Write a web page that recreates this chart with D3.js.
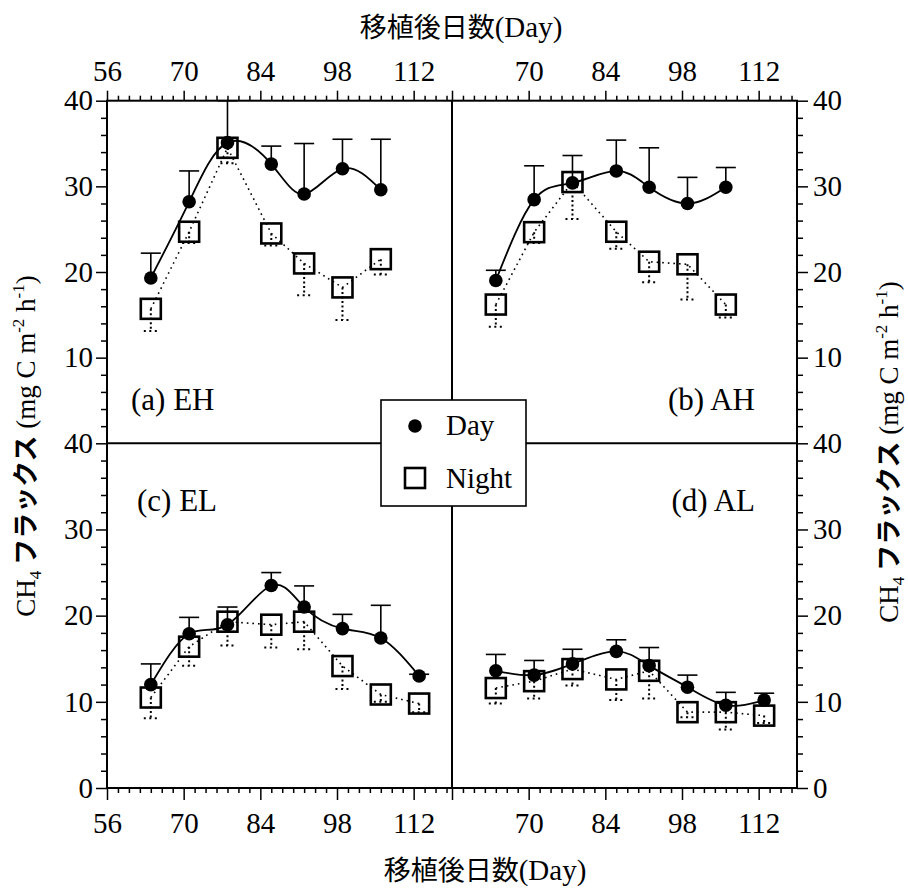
<!DOCTYPE html>
<html><head><meta charset="utf-8">
<script src="https://cdn.jsdelivr.net/npm/d3@7"></script>
<style>
body{margin:0;background:#fff}
svg text{font-family:"Liberation Serif","DejaVu Serif",serif}
svg text .cjk, svg text.cjk{font-family:"Noto Sans CJK JP","Noto Sans CJK SC",sans-serif}
</style>
</head><body><svg id="c" width="908" height="888"></svg>
<script>
// ---------- data ----------
const days7 = [64, 71, 78, 86, 92, 99, 106];
const days8 = [64, 71, 78, 86, 92, 99, 106, 113];
const xTickLabels = [56, 70, 84, 98, 112];
const yTickLabels = [0, 10, 20, 30, 40];

const EH_day = [19.3, 28.2, 35.1, 32.6, 29.1, 32.05, 29.6];
const EH_dayErr = [2.9, 3.6, 4.9, 2.1, 5.9, 3.45, 5.9];
const EH_night = [15.7, 24.7, 34.5, 24.5, 21.0, 18.2, 21.5];
const EH_nightErr = [2.6, 1.3, 1.8, 1.4, 3.7, 3.8, 1.8];

const AH_day = [19.0, 28.45, 30.4, 31.8, 29.9, 28.0, 29.9];
const AH_dayErr = [1.2, 3.95, 3.2, 3.6, 4.6, 3.05, 2.3];
const AH_night = [16.2, 24.65, 30.5, 24.7, 21.2, 20.9, 16.2];
const AH_nightErr = [2.6, 1.25, 4.3, 2.0, 2.4, 4.1, 1.5];

const EL_day = [12.0, 17.9, 18.95, 23.5, 21.0, 18.5, 17.4, 13.0];
const EL_dayErr = [2.4, 1.9, 2.05, 1.5, 2.45, 1.65, 3.8, 0.2];
const EL_night = [10.5, 16.4, 19.3, 18.95, 19.3, 14.15, 10.85, 9.8];
const EL_nightErr = [2.4, 2.2, 2.75, 2.65, 3.2, 2.65, 0.85, 1.0];

const AL_day = [13.6, 13.1, 14.4, 15.85, 14.2, 11.7, 9.6, 10.2];
const AL_dayErr = [1.9, 1.7, 1.7, 1.35, 2.1, 1.4, 1.5, 0.8];
const AL_night = [11.6, 12.4, 13.8, 12.6, 13.6, 8.8, 8.8, 8.4];
const AL_nightErr = [1.8, 2.0, 1.9, 2.4, 3.2, 0.6, 2.0, 0.85];

const panelLabels = ["(a) EH", "(b) AH", "(c) EL", "(d) AL"];
const seriesNames = ["Day", "Night"];
const xTitle = "移植後日数";

// ---------- layout ----------
const svg = d3.select("#c");
const SERIF = "Liberation Serif, DejaVu Serif, serif";
const CJK = "Noto Sans CJK JP, Noto Sans CJK SC, sans-serif";
const L = 107, M = 452, R = 797, T = 100.7, H = 443.3, B = 788;

const xs = [d3.scaleLinear().domain([56, 119]).range([L, M]),
            d3.scaleLinear().domain([56, 119]).range([M, R])];
const ys = [d3.scaleLinear().domain([0, 40]).range([H, T]),
            d3.scaleLinear().domain([0, 40]).range([B, H])];

const panels = [
  {col: 0, row: 0, days: days7, day: EH_day, dayErr: EH_dayErr, night: EH_night, nightErr: EH_nightErr, label: panelLabels[0], lx: 131, ly: 410, anchor: "start"},
  {col: 1, row: 0, days: days7, day: AH_day, dayErr: AH_dayErr, night: AH_night, nightErr: AH_nightErr, label: panelLabels[1], lx: 755, ly: 410, anchor: "end"},
  {col: 0, row: 1, days: days8, day: EL_day, dayErr: EL_dayErr, night: EL_night, nightErr: EL_nightErr, label: panelLabels[2], lx: 137, ly: 511, anchor: "start"},
  {col: 1, row: 1, days: days8, day: AL_day, dayErr: AL_dayErr, night: AL_night, nightErr: AL_nightErr, label: panelLabels[3], lx: 755, ly: 511, anchor: "end"}
];

function styleAxis(g, size) {
  g.attr("font-family", null).attr("font-size", null);
  g.select(".domain").remove();
  g.selectAll("line").attr("stroke", "#000").attr("stroke-width", 1.5);
  g.selectAll("text").style("font-family", SERIF).style("font-size", size + "px").attr("fill", "#000");
}
const minorX = d3.range(56, 119, 2).filter(d => !xTickLabels.includes(d));
const minorY = d3.range(0, 41, 2).filter(d => !yTickLabels.includes(d));

// x axes (top and bottom, both columns)
[0, 1].forEach(c => {
  const fmt = d => (c === 1 && d === 56) ? "" : d;
  svg.append("g").attr("transform", `translate(0,${T})`)
    .call(d3.axisTop(xs[c]).tickValues(xTickLabels).tickSize(10).tickPadding(10).tickFormat(fmt))
    .call(g => styleAxis(g, 29));
  svg.append("g").attr("transform", `translate(0,${T})`)
    .call(d3.axisTop(xs[c]).tickValues(minorX).tickSize(5).tickFormat(""))
    .call(g => styleAxis(g, 29));
  svg.append("g").attr("transform", `translate(0,${B})`)
    .call(d3.axisBottom(xs[c]).tickValues(xTickLabels).tickSize(12).tickPadding(12).tickFormat(fmt))
    .call(g => styleAxis(g, 29));
  svg.append("g").attr("transform", `translate(0,${B})`)
    .call(d3.axisBottom(xs[c]).tickValues(minorX).tickSize(5).tickFormat(""))
    .call(g => styleAxis(g, 29));
});
// y axes (left and right, both rows)
[0, 1].forEach(r => {
  const vals = r === 0 ? yTickLabels.filter(d => d > 0) : yTickLabels;
  svg.append("g").attr("transform", `translate(${L},0)`)
    .call(d3.axisLeft(ys[r]).tickValues(vals).tickSize(11).tickPadding(3))
    .call(g => styleAxis(g, 29));
  svg.append("g").attr("transform", `translate(${L},0)`)
    .call(d3.axisLeft(ys[r]).tickValues(minorY).tickSize(6).tickFormat(""))
    .call(g => styleAxis(g, 29));
  svg.append("g").attr("transform", `translate(${R},0)`)
    .call(d3.axisRight(ys[r]).tickValues(vals).tickSize(11).tickPadding(5))
    .call(g => styleAxis(g, 29));
  svg.append("g").attr("transform", `translate(${R},0)`)
    .call(d3.axisRight(ys[r]).tickValues(minorY).tickSize(6).tickFormat(""))
    .call(g => styleAxis(g, 29));
});

// frame and dividers
svg.append("rect").attr("x", L).attr("y", T).attr("width", R - L).attr("height", B - T)
  .attr("fill", "none").attr("stroke", "#000").attr("stroke-width", 2);
svg.append("line").attr("x1", L).attr("x2", R).attr("y1", H).attr("y2", H).attr("stroke", "#000").attr("stroke-width", 2);
svg.append("line").attr("x1", M).attr("x2", M).attr("y1", T).attr("y2", B).attr("stroke", "#000").attr("stroke-width", 2);

// panels
panels.forEach(p => {
  const x = xs[p.col], y = ys[p.row];
  const g = svg.append("g");
  const nightPts = p.days.map((d, i) => [d, p.night[i], p.nightErr[i]]);
  const dayPts = p.days.map((d, i) => [d, p.day[i], p.dayErr[i]]);

  g.append("path").datum(nightPts)
    .attr("d", d3.line().x(d => x(d[0])).y(d => y(d[1])))
    .attr("fill", "none").attr("stroke", "#000").attr("stroke-width", 1.6)
    .attr("stroke-dasharray", "1.6,4");
  const ne = g.selectAll(".ne").data(nightPts).enter().append("g");
  ne.append("line").attr("x1", d => x(d[0])).attr("x2", d => x(d[0]))
    .attr("y1", d => y(d[1])).attr("y2", d => y(d[1] - d[2]))
    .attr("stroke", "#000").attr("stroke-width", 2).attr("stroke-dasharray", "2,2.5");
  ne.append("line").attr("x1", d => x(d[0]) - 7).attr("x2", d => x(d[0]) + 7)
    .attr("y1", d => y(d[1] - d[2])).attr("y2", d => y(d[1] - d[2]))
    .attr("stroke", "#000").attr("stroke-width", 2).attr("stroke-dasharray", "2,3.5");
  g.selectAll(".sq").data(nightPts).enter().append("rect")
    .attr("x", d => x(d[0]) - 10).attr("y", d => y(d[1]) - 10)
    .attr("width", 20).attr("height", 20)
    .attr("fill", "none").attr("stroke", "#000").attr("stroke-width", 2.6);

  g.append("path").datum(dayPts)
    .attr("d", d3.line().x(d => x(d[0])).y(d => y(d[1])).curve(d3.curveNatural))
    .attr("fill", "none").attr("stroke", "#000").attr("stroke-width", 1.8);
  const de = g.selectAll(".de").data(dayPts).enter().append("g");
  de.append("line").attr("x1", d => x(d[0])).attr("x2", d => x(d[0]))
    .attr("y1", d => y(d[1])).attr("y2", d => y(d[1] + d[2]))
    .attr("stroke", "#000").attr("stroke-width", 1.6);
  de.append("line").attr("x1", d => x(d[0]) - 10).attr("x2", d => x(d[0]) + 10)
    .attr("y1", d => y(d[1] + d[2])).attr("y2", d => y(d[1] + d[2]))
    .attr("stroke", "#000").attr("stroke-width", 1.6);
  g.selectAll(".ci").data(dayPts).enter().append("circle")
    .attr("cx", d => x(d[0])).attr("cy", d => y(d[1])).attr("r", 6.8).attr("fill", "#000");

  svg.append("text").attr("x", p.lx).attr("y", p.ly).attr("text-anchor", p.anchor)
    .style("font-family", SERIF).style("font-size", "31px").text(p.label);
});

// legend
const lg = svg.append("g");
lg.append("rect").attr("x", 381).attr("y", 400).attr("width", 145).attr("height", 106)
  .attr("fill", "#fff").attr("stroke", "#000").attr("stroke-width", 1.6);
lg.append("circle").attr("cx", 415).attr("cy", 426).attr("r", 6.8).attr("fill", "#000");
lg.append("rect").attr("x", 405).attr("y", 468).attr("width", 20).attr("height", 20)
  .attr("fill", "none").attr("stroke", "#000").attr("stroke-width", 2.6);
lg.append("text").attr("x", 446).attr("y", 435).style("font-family", SERIF).style("font-size", "29px").text(seriesNames[0]);
lg.append("text").attr("x", 446).attr("y", 488).style("font-family", SERIF).style("font-size", "29px").text(seriesNames[1]);

// x titles
function xTitleText(cx, by) {
  const t = svg.append("text").attr("x", cx).attr("y", by).attr("text-anchor", "middle");
  t.append("tspan").attr("class", "cjk").style("font-family", CJK).style("font-size", "27px").text(xTitle);
  t.append("tspan").style("font-family", SERIF).style("font-size", "29px").text("(Day)");
}
xTitleText(461, 37);
xTitleText(485, 880);

// y titles
function yTitle(cx, cy) {
  const t = svg.append("text").attr("transform", `translate(${cx},${cy}) rotate(-90)`)
    .attr("text-anchor", "middle").style("font-family", SERIF).style("font-size", "27px");
  t.append("tspan").text("CH");
  t.append("tspan").style("font-size", "17px").attr("dy", 6).text("4");
  t.append("tspan").attr("dy", -6).attr("class", "cjk").style("font-family", CJK).style("font-weight", "bold").style("font-size", "26px").text(" フラックス");
  t.append("tspan").text(" (mg C m");
  t.append("tspan").style("font-size", "17px").attr("dy", -11).text("-2");
  t.append("tspan").attr("dy", 11).text(" h");
  t.append("tspan").style("font-size", "17px").attr("dy", -11).text("-1");
  t.append("tspan").attr("dy", 11).text(")");
}
yTitle(35, 446);
yTitle(898, 452);
</script>
</body></html>
